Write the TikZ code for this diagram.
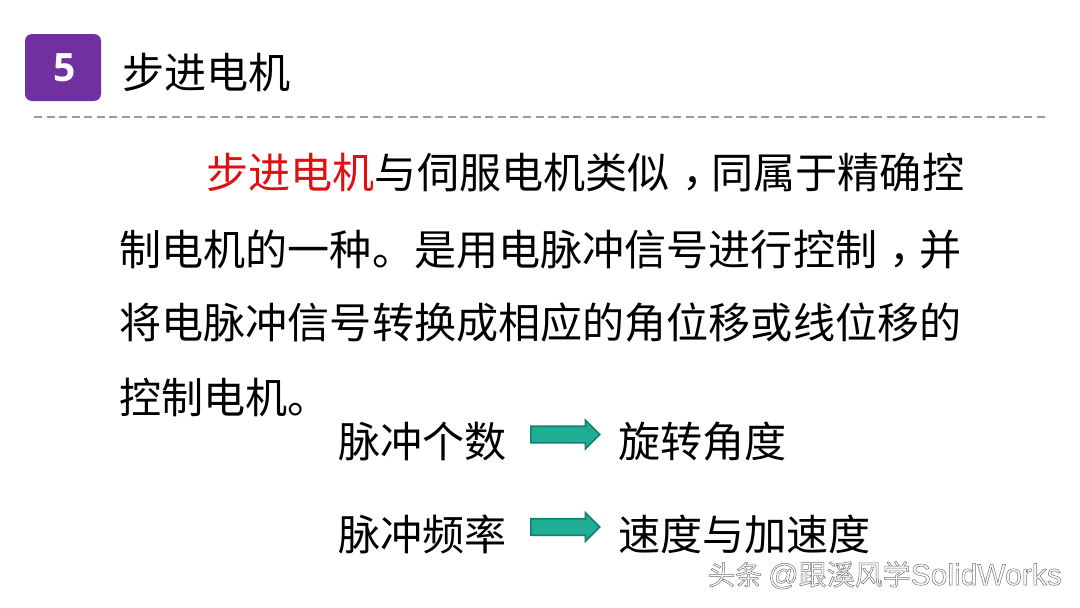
\documentclass[tikz,border=0pt]{standalone}
\usepackage{fontspec}
\usetikzlibrary{shapes.arrows}
\setmainfont{Noto Sans CJK SC}
\newfontfamily\badgefont{Open Sans}
\newfontfamily\wmlatin{Liberation Sans}
\definecolor{badgepurple}{HTML}{7030A0}
\definecolor{arrowfill}{HTML}{1FAE94}
\definecolor{arrowedge}{HTML}{13806E}
\definecolor{redtext}{HTML}{E01010}
\definecolor{dashgray}{HTML}{9A9A9A}
\definecolor{wmgray}{HTML}{707070}
\newcommand{\midcomma}{\hbox to 42pt{\hskip 12.5pt\raisebox{2pt}{，}\hss}}
\tikzset{
  px/.style={x=1pt,y=-1pt},
  bodytext/.style={anchor=base west,inner sep=0pt,outer sep=0pt,text=black,font=\fontsize{42.1}{42}\selectfont},
  blockarrow/.style={single arrow,draw=arrowedge,line width=1.6pt,fill=arrowfill,
    minimum height=69pt,minimum width=27pt,inner xsep=0pt,inner ysep=7.5pt,
    single arrow head extend=6pt,single arrow head indent=0pt,anchor=west},
}
\begin{document}
\begin{tikzpicture}[px]
\useasboundingbox (0,0) rectangle (1080,608);
\fill[white] (0,0) rectangle (1080,608);
\node[draw=none,fill=badgepurple,rounded corners=7pt,minimum width=76pt,minimum height=67pt,inner sep=0pt] (badge) at (63,67.5) {};
\node[inner sep=0pt,text=white,font=\badgefont\bfseries\fontsize{39}{39}\selectfont] (badgenum) at (64.5,67.5) {5};
\node[bodytext] (title) at (122,88) {步进电机};
\coordinate (dashL) at (34,117);
\coordinate (dashR) at (1045,117);
\draw[dashgray,line width=1.3pt,dash pattern=on 8pt off 4.5375pt] (dashL) -- (dashR);
\node[bodytext] (l1) at (206.5,188) {\textcolor{redtext}{步进电机}与伺服电机类似\midcomma 同属于精确控};
\node[bodytext] (l2) at (119.5,265) {制电机的一种。是用电脉冲信号进行控制\midcomma 并};
\node[bodytext] (l3) at (119.5,338) {将电脉冲信号转换成相应的角位移或线位移的};
\node[bodytext] (l4) at (119.5,413) {控制电机。};
\node[bodytext] (a1) at (338,457) {脉冲个数};
\node[bodytext] (b1) at (618,457) {旋转角度};
\node[bodytext] (a2) at (338,550) {脉冲频率};
\node[bodytext] (b2) at (618,550) {速度与加速度};
\node[blockarrow] (arr1) at (530,434.5) {};
\node[blockarrow] (arr2) at (530,527) {};
\node[anchor=base west,inner sep=0pt,text=wmgray] (wm) at (708,585)
  {\special{pdf:code 1 Tr 0.5 w 0.44 G}\fontsize{27}{27}\selectfont 头条 \wmlatin\fontsize{30}{30}\selectfont @\normalfont\fontsize{28}{28}\selectfont 跟溪风学\wmlatin\fontsize{30}{30}\selectfont SolidWorks\special{pdf:code 0 Tr}};
\end{tikzpicture}
\end{document}
